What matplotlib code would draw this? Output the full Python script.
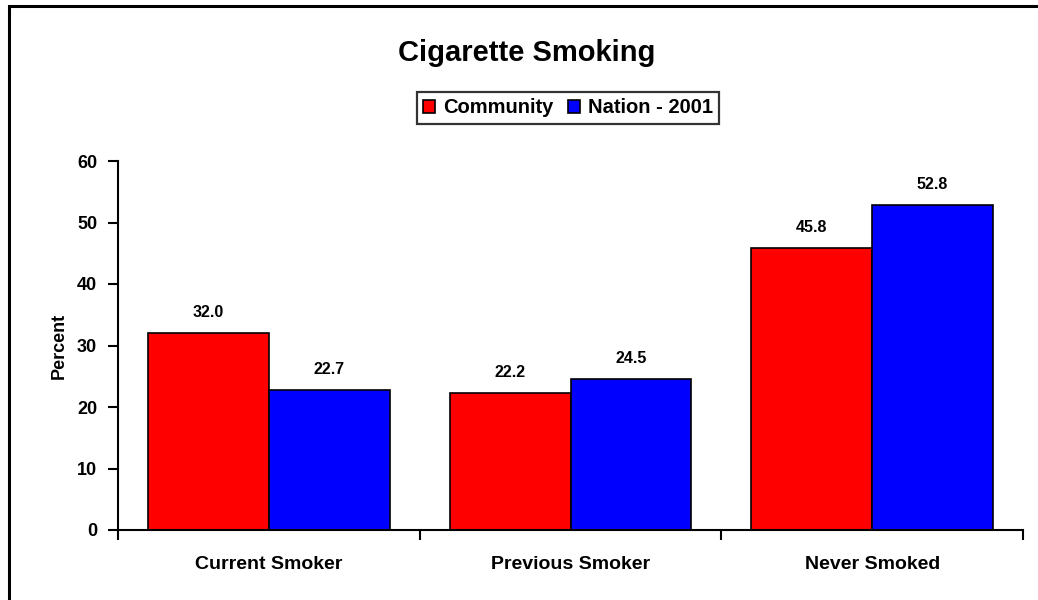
import numpy as np
import matplotlib.pyplot as plt
from matplotlib.patches import Rectangle

plt.rcParams['font.family'] = ['Liberation Sans', 'DejaVu Sans']
plt.rcParams['font.weight'] = 'bold'

# Data
categories = ["Current Smoker", "Previous Smoker", "Never Smoked"]
community = [32.0, 22.2, 45.8]
nation_2001 = [22.7, 24.5, 52.8]
series_names = ["Community", "Nation - 2001"]
yticks = [0, 10, 20, 30, 40, 50, 60]

fig = plt.figure(figsize=(10.38, 6), dpi=100)
ax = fig.add_axes([118 / 1038, 70 / 600, (1023 - 118) / 1038, (530 - 161) / 600])

# outer chart frame (left and top edges show)
fig.patches.append(Rectangle((9 / 1038, -0.1), 1.2, (600 - 6) / 600 + 0.1,
                             transform=fig.transFigure, fill=False,
                             edgecolor='black', linewidth=2.2))

x = np.arange(len(categories)) + 0.5
w = 0.4
b1 = ax.bar(x - w / 2, community, w, color='#ff0000', edgecolor='black',
            linewidth=1.2, label=series_names[0])
b2 = ax.bar(x + w / 2, nation_2001, w, color='#0000ff', edgecolor='black',
            linewidth=1.2, label=series_names[1])

for bars, vals in ((b1, community), (b2, nation_2001)):
    for bar, v in zip(bars, vals):
        ax.text(bar.get_x() + bar.get_width() / 2, v + 2.2, f"{v:.1f}",
                ha='center', va='bottom', fontsize=11.5, fontweight='bold')

ax.set_xlim(0, 3)
ax.set_ylim(0, 60)
ax.set_yticks(yticks)
ax.set_yticklabels([str(t) for t in yticks], fontsize=13, fontweight='bold')
ax.set_xticks([0, 1, 2, 3])
ax.set_xticklabels([])
ax.set_xticks(x, minor=True)
ax.set_xticklabels(categories, minor=True, fontsize=14, fontweight='bold')
ax.tick_params(axis='x', which='minor', length=0, pad=19)
ax.tick_params(axis='x', which='major', direction='out', length=7, width=1.5)
ax.tick_params(axis='y', direction='out', length=7, width=1.5, pad=8)

for s in ('top', 'right'):
    ax.spines[s].set_visible(False)
for s in ('left', 'bottom'):
    ax.spines[s].set_linewidth(1.5)

ax.set_ylabel("Percent", fontsize=13, fontweight='bold', labelpad=7)

fig.text(527 / 1038, 1 - 53 / 600, "Cigarette Smoking", ha='center', va='center',
         fontsize=21, fontweight='bold')

leg = fig.legend(handles=[b1, b2], loc='center', bbox_to_anchor=(568 / 1038, 1 - 108 / 600),
                 ncol=2, frameon=True, fancybox=False, fontsize=14.5,
                 handlelength=0.6, handleheight=0.6, handletextpad=0.4,
                 columnspacing=0.7, borderpad=0.3, borderaxespad=0)
leg.get_frame().set_edgecolor('black')
leg.get_frame().set_linewidth(1.6)

fig.savefig("out.png", dpi=100)
